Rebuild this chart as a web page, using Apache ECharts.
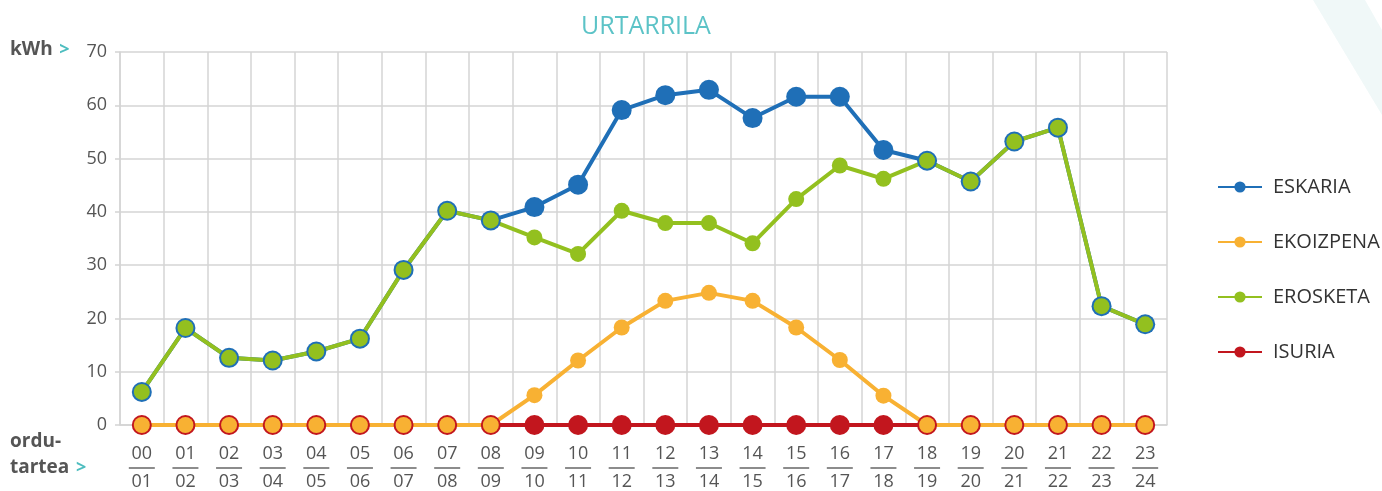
<!DOCTYPE html>
<html>
<head>
<meta charset="utf-8">
<style>
    html, body { margin: 0; padding: 0; background: #fff; }
    #echart { width: 1382px; height: 491px; }
</style>
</head>
<body>
<div id="echart"></div>
<script src="https://cdn.jsdelivr.net/npm/echarts@6/dist/echarts.min.js"></script>
<script>
    // orduak (hour slots 00/01 ... 23/24)
    var hoursFrom = ['00','01','02','03','04','05','06','07','08','09','10','11','12','13','14','15','16','17','18','19','20','21','22','23'];
    var hoursTo   = ['01','02','03','04','05','06','07','08','09','10','11','12','13','14','15','16','17','18','19','20','21','22','23','24'];

    var eskaria   = [6.2, 18.2, 12.6, 12.1, 13.8, 16.2, 29.1, 40.2, 38.4, 40.9, 45.1, 59.1, 61.9, 62.9, 57.6, 61.6, 61.6, 51.6, 49.6, 45.7, 53.2, 55.8, 22.3, 18.9];
    var ekoizpena = [0, 0, 0, 0, 0, 0, 0, 0, 0, 5.6, 12.1, 18.3, 23.3, 24.8, 23.3, 18.3, 12.2, 5.5, 0, 0, 0, 0, 0, 0];
    var erosketa  = [6.2, 18.2, 12.6, 12.1, 13.8, 16.2, 29.1, 40.2, 38.4, 35.2, 32.1, 40.2, 37.9, 37.9, 34.1, 42.4, 48.7, 46.2, 49.6, 45.7, 53.2, 55.8, 22.3, 18.9];
    var isuria    = [0, 0, 0, 0, 0, 0, 0, 0, 0, 0, 0, 0, 0, 0, 0, 0, 0, 0, 0, 0, 0, 0, 0, 0];

    var yTicks = [0, 10, 20, 30, 40, 50, 60, 70];

    var colors = {
        eskaria: '#1f6fb7',
        ekoizpena: '#f8b133',
        erosketa: '#93c01f',
        isuria: '#c2161e'
    };

    function draw() {
        var app = echarts.init(document.getElementById('echart'));

        var categories = hoursFrom.map(function (h, i) { return h + '|' + hoursTo[i]; });

        function serie(name, data, color, size) {
            return {
                name: name,
                type: 'line',
                data: data,
                symbol: 'circle',
                symbolSize: size,
                showAllSymbol: true,
                lineStyle: { color: color, width: 4 },
                itemStyle: { color: color },
                emphasis: { disabled: true }
            };
        }

        var option = {
            animation: false,
            title: {
                text: 'URTARRILA',
                left: 576,
                top: 9,
                textStyle: { color: '#5cc3c7', fontSize: 25, fontWeight: 'normal', fontFamily: 'Open Sans' }
            },
            legend: {
                data: ['ESKARIA', 'EKOIZPENA', 'EROSKETA', 'ISURIA'],
                orient: 'vertical',
                left: 1212,
                top: 172,
                itemGap: 35,
                itemWidth: 44,
                itemHeight: 14,
                textStyle: { color: '#333', fontSize: 20, fontFamily: 'Open Sans', padding: [0, 0, 0, 6] }
            },
            grid: { left: 120, right: 215, top: 52, bottom: 64 },
            xAxis: {
                type: 'category',
                data: categories,
                boundaryGap: true,
                axisLine: { lineStyle: { color: '#d4d4d4', width: 1.5 } },
                axisTick: { show: false },
                splitLine: { show: true, lineStyle: { color: '#d4d4d4', width: 1.5 } },
                axisLabel: {
                    interval: 0,
                    margin: 18,
                    formatter: function (v) {
                        var p = v.split('|');
                        return '{t|' + p[0] + '}\n{l|}\n{b|' + p[1] + '}';
                    },
                    rich: {
                        t: { fontSize: 18, lineHeight: 22, color: '#555', fontFamily: 'Open Sans' },
                        l: { width: 26, height: 2, lineHeight: 6, backgroundColor: '#8c8c8c' },
                        b: { fontSize: 18, lineHeight: 22, color: '#555', fontFamily: 'Open Sans' }
                    }
                }
            },
            yAxis: {
                type: 'value',
                min: yTicks[0],
                max: yTicks[yTicks.length - 1],
                interval: 10,
                axisLine: { show: true, lineStyle: { color: '#d4d4d4', width: 1.5 } },
                axisTick: { show: true, length: 5, lineStyle: { color: '#d4d4d4', width: 1.5 } },
                splitLine: { lineStyle: { color: '#d4d4d4', width: 1.5 } },
                axisLabel: { color: '#555', fontSize: 18, margin: 13, fontFamily: 'Open Sans' }
            },
            graphic: [
                {
                    type: 'polygon',
                    z: -10,
                    shape: { points: [[1313, 0], [1365, 0], [1382, 30], [1382, 115]] },
                    style: { fill: '#f0f8f8' }
                },
                {
                    type: 'text',
                    left: 10,
                    top: 40,
                    style: {
                        text: '{a|kWh}  {g|>}',
                        rich: {
                            a: { fontSize: 19, fontWeight: 'bold', fill: '#555', fontFamily: 'Open Sans' },
                            g: { fontSize: 18, fontWeight: 'bold', fill: '#4dbdbf', fontFamily: 'Open Sans' }
                        }
                    }
                },
                {
                    type: 'text',
                    left: 10,
                    top: 432,
                    style: {
                        text: '{a|ordu-}\n{a|tartea}  {g|>}',
                        rich: {
                            a: { fontSize: 19, lineHeight: 26, fontWeight: 'bold', fill: '#555', fontFamily: 'Open Sans' },
                            g: { fontSize: 18, lineHeight: 26, fontWeight: 'bold', fill: '#4dbdbf', fontFamily: 'Open Sans' }
                        }
                    }
                }
            ],
            series: [
                serie('ESKARIA', eskaria, colors.eskaria, 20),
                serie('ISURIA', isuria, colors.isuria, 20),
                serie('EKOIZPENA', ekoizpena, colors.ekoizpena, 16),
                serie('EROSKETA', erosketa, colors.erosketa, 16)
            ]
        };

        app.setOption(option);
    }

    draw();
</script>
</body>
</html>
